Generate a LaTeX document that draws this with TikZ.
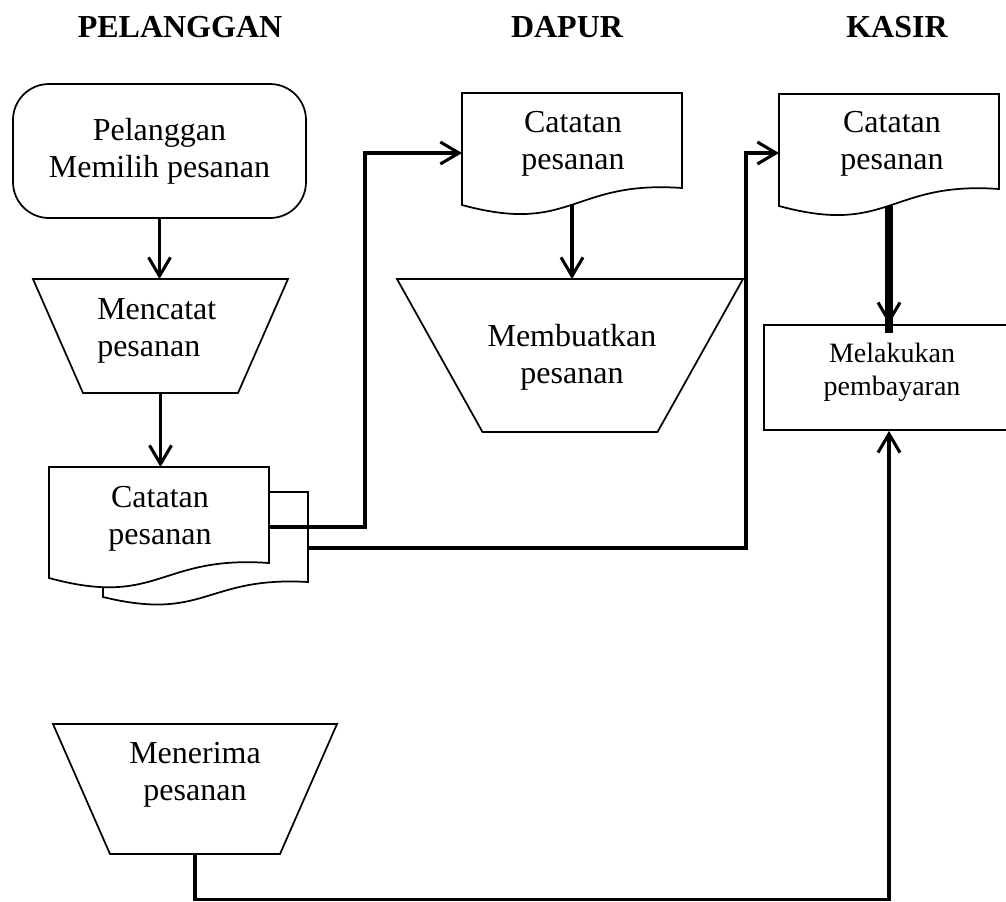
\documentclass[tikz,border=0pt]{standalone}
\usepackage{fontspec}
\setmainfont{Liberation Serif}
\usetikzlibrary{arrows.meta}
\begin{document}
\begin{tikzpicture}[x=0.75pt, y=-0.75pt,
  shp/.style={draw=black, line width=1.3pt, fill=white, line join=miter},
  frame/.style={rectangle, draw=none, inner sep=0pt, outer sep=0pt},
  conn/.style={line width=2.3pt, -{Straight Barb[length=14pt,width=16.5pt]}},
  heavy/.style={line width=5.3pt},
  lbl/.style={inner sep=0pt, align=center, font=\fontsize{24}{27.75}\selectfont},
  lblsm/.style={inner sep=0pt, align=center, font=\fontsize{21}{24.75}\selectfont},
  ttl/.style={inner sep=0pt, anchor=base, font=\fontsize{24}{28}\selectfont\bfseries}]

\useasboundingbox (0,0) rectangle (1006,901);
\clip (0,0) rectangle (1006,901);

% titles
\node[ttl] (h1) at (180,37) {PELANGGAN};
\node[ttl] (h2) at (567,37) {DAPUR};
\node[ttl] (h3) at (897,37) {KASIR};

% terminal
\node[shp, rounded corners=27pt, minimum width=219.75pt, minimum height=100.5pt, inner sep=0pt] (p1) at (159.5,151) {};
\node[lbl] (t1) at (159.5,151.5) {Pelanggan\\Memilih pesanan};

% Mencatat pesanan
\node[frame, minimum width=191.25pt, minimum height=85.5pt] (m1) at (160.5,336) {};
\draw[shp] (m1.north west) -- (m1.north east) -- ([xshift=-37.5pt]m1.south east) -- ([xshift=37.5pt]m1.south west) -- cycle;
\node[lbl, align=left, anchor=west] (t2) at (97,331) {Mencatat\\pesanan};

% multi document
\node[frame, minimum width=153.75pt, minimum height=78.75pt] (bdoc) at (205.5,544.5) {};
\draw[shp] (bdoc.north west) -- (bdoc.north east) -- (308,582) .. controls (205.5,576) and (205.5,622) .. (103,597) -- cycle;
\node[frame, minimum width=165pt, minimum height=83.25pt] (mdoc) at (159,522.5) {};
\draw[shp] (mdoc.north west) -- (mdoc.north east) -- (269,563) .. controls (159,555) and (159,608) .. (49,578) -- cycle;
\node[lbl] (t3) at (160,519) {Catatan\\pesanan};

% Dapur document
\node[frame, minimum width=165pt, minimum height=84pt] (ddoc) at (572,149) {};
\draw[shp] (ddoc.north west) -- (ddoc.north east) -- (682,188) .. controls (572,180) and (572,235) .. (462,205) -- cycle;
\node[lbl] (t4) at (573,144) {Catatan\\pesanan};

% Membuatkan pesanan
\node[frame, minimum width=259.5pt, minimum height=114.75pt] (mk) at (570,355.5) {};
\draw[shp] (mk.north west) -- (mk.north east) -- ([xshift=-64.125pt]mk.south east) -- ([xshift=64.125pt]mk.south west) -- cycle;
\node[lbl] (t5) at (572,357.5) {Membuatkan\\pesanan};

% Kasir document
\node[frame, minimum width=165pt, minimum height=84pt] (kdoc) at (889,150) {};
\draw[shp] (kdoc.north west) -- (kdoc.north east) -- (999,189) .. controls (889,181) and (889,236) .. (779,206) -- cycle;
\node[lbl] (t6) at (892,144) {Catatan\\pesanan};

% Melakukan pembayaran
\node[shp, minimum width=192pt, minimum height=78.75pt, inner sep=0pt] (byr) at (892,377.5) {};
\node[lblsm] (t7) at (892,372) {Melakukan\\pembayaran};

% Menerima pesanan
\node[frame, minimum width=213pt, minimum height=97.5pt] (mn) at (195,789) {};
\draw[shp] (mn.north west) -- (mn.north east) -- ([xshift=-42.75pt]mn.south east) -- ([xshift=42.75pt]mn.south west) -- cycle;
\node[lbl] (t8) at (195,775) {Menerima\\pesanan};

% connectors
\coordinate (k1) at (365,153);
\coordinate (k2) at (746,153);
\coordinate (k3) at (889,899.5);
\coordinate (k4) at (889,333);
\draw[conn] (p1.south) -- (p1.south |- m1.north);
\draw[conn] (m1.south) -- (m1.south |- mdoc.north);
\draw[conn] (mdoc.east |- 0,527) -| (k1) -- (ddoc.west |- k1);
\draw[conn] (bdoc.east |- 0,548) -| (k2) -- (kdoc.west |- k2);
\draw[conn] (ddoc.south) -- (ddoc.south |- mk.north);
\draw[heavy] (kdoc.south) -- (k4);
\draw[conn] (kdoc.south |- 0,290) -- (kdoc.south |- byr.north);
\draw[conn] (mn.south) |- (k3) -- (k3 |- byr.south);
\end{tikzpicture}
\end{document}
